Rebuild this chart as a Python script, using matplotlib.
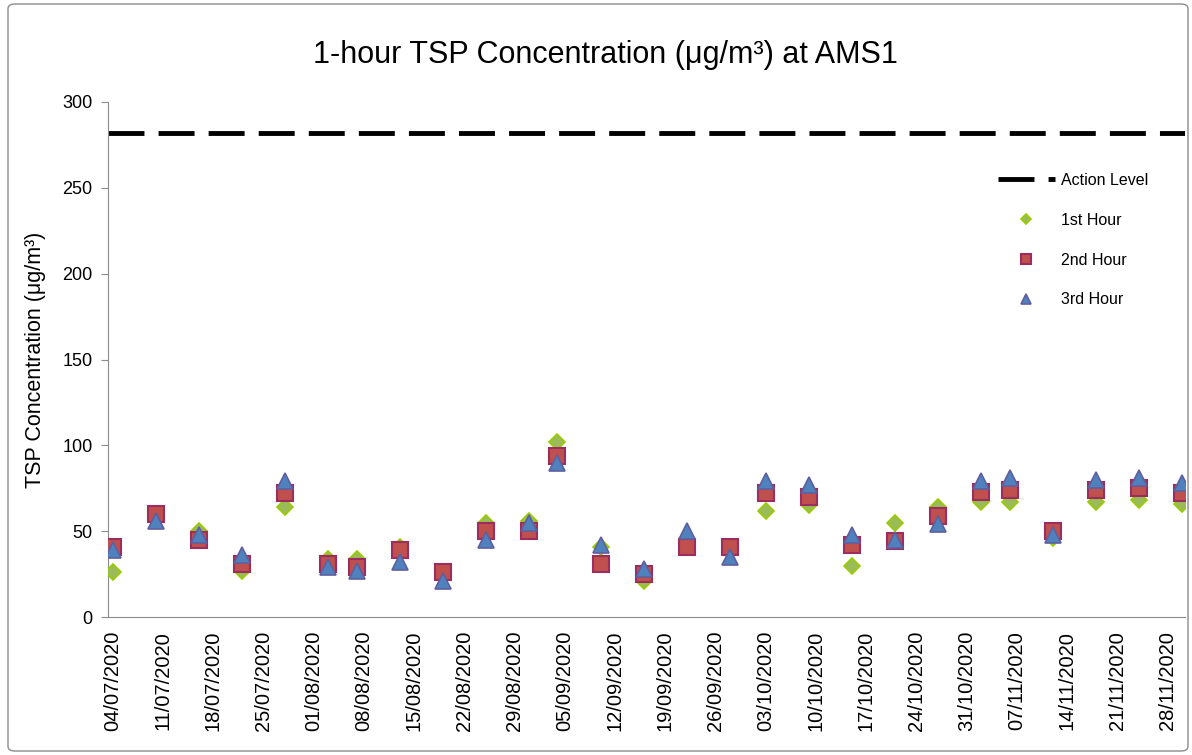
import datetime as dt
import matplotlib
matplotlib.use("Agg")
import matplotlib.pyplot as plt
import matplotlib.dates as mdates
from matplotlib.patches import FancyBboxPatch

plt.rcParams['font.family'] = ['Liberation Sans', 'DejaVu Sans']

# ---- data ----
dates = ['04/07/2020', '10/07/2020', '16/07/2020', '22/07/2020', '28/07/2020',
         '03/08/2020', '07/08/2020', '13/08/2020', '19/08/2020', '25/08/2020',
         '31/08/2020', '04/09/2020', '10/09/2020', '16/09/2020', '22/09/2020',
         '28/09/2020', '03/10/2020', '09/10/2020', '15/10/2020', '21/10/2020',
         '27/10/2020', '02/11/2020', '06/11/2020', '12/11/2020', '18/11/2020',
         '24/11/2020', '30/11/2020']
first_hour = [26, 59, 50, 27, 64, 34, 34, 41, 26, 55, 56, 102, 41, 21, 41,
              41, 62, 65, 30, 55, 64, 67, 67, 46, 67, 68, 66]
second_hour = [41, 60, 45, 31, 72, 31, 29, 39, 26, 50, 50, 94, 31, 25, 41,
               41, 72, 70, 42, 44, 59, 73, 74, 50, 74, 75, 72]
third_hour = [39, 56, 48, 36, 79, 29, 27, 32, 21, 45, 55, 90, 42, 28, 50,
              35, 79, 77, 48, 45, 54, 79, 81, 48, 80, 81, 78]
action_level = 282
tick_start, tick_end = '04/07/2020', '28/11/2020'

x = [dt.datetime.strptime(d, '%d/%m/%Y') for d in dates]
t0 = dt.datetime.strptime(tick_start, '%d/%m/%Y')
t1 = dt.datetime.strptime(tick_end, '%d/%m/%Y')
ticks = []
t = t0
while t <= t1:
    ticks.append(t)
    t += dt.timedelta(days=7)

fig = plt.figure(figsize=(11.92, 7.55), dpi=100)
ax = fig.add_axes([108 / 1192, 1 - 617 / 755, (1185 - 108) / 1192, (617 - 102) / 755])

# outer chart border
fig.patches.append(FancyBboxPatch((8 / 1192, 4 / 755), 1180 / 1192, 747 / 755,
                                  boxstyle='round,pad=0,rounding_size=0.006',
                                  transform=fig.transFigure, fill=False,
                                  edgecolor='#8c8c8c', linewidth=1.0))

ax.axhline(action_level, color='black', linewidth=3.5, dashes=(7.4, 2.9),
           label='Action Level', zorder=2)
ax.plot(x, first_hour, linestyle='none', marker='D', markersize=8.5,
        markerfacecolor='#9bbb59', markeredgecolor='#99cc00', markeredgewidth=1.2,
        label='1st Hour', zorder=3)
ax.plot(x, second_hour, linestyle='none', marker='s', markersize=11,
        markerfacecolor='#c0504d', markeredgecolor='#9b2d5f', markeredgewidth=1.5,
        label='2nd Hour', zorder=4)
ax.plot(x, third_hour, linestyle='none', marker='^', markersize=12,
        markerfacecolor='#4f81bd', markeredgecolor='#5f5fa0', markeredgewidth=1.2,
        label='3rd Hour', zorder=5)

ax.set_ylim(0, 300)
ax.set_yticks(range(0, 301, 50))
ax.set_xlim(x[0] - dt.timedelta(days=0.65), x[-1] + dt.timedelta(days=0.46))
ax.set_xticks(ticks)
ax.xaxis.set_major_formatter(mdates.DateFormatter('%d/%m/%Y'))
plt.setp(ax.get_xticklabels(), rotation=90, ha='center', va='top')

for s in ['top', 'right']:
    ax.spines[s].set_visible(False)
for s in ['left', 'bottom']:
    ax.spines[s].set_color('#8c8c8c')
ax.tick_params(axis='y', length=5, color='#8c8c8c', labelsize=13, pad=6)
ax.tick_params(axis='x', length=0, labelsize=14.5, pad=10)

ax.set_ylabel('TSP Concentration (μg/m³)', fontsize=15.5, labelpad=12)
fig.text(0.508, 0.927, '1-hour TSP Concentration (μg/m³) at AMS1',
         ha='center', va='center', fontsize=22)

leg = ax.legend(loc='upper right', bbox_to_anchor=(0.979, 0.89), frameon=False,
                fontsize=11.5, markerscale=0.65, handlelength=3.6,
                labelspacing=1.55, handletextpad=0.35)

fig.savefig('out.png', dpi=100)
